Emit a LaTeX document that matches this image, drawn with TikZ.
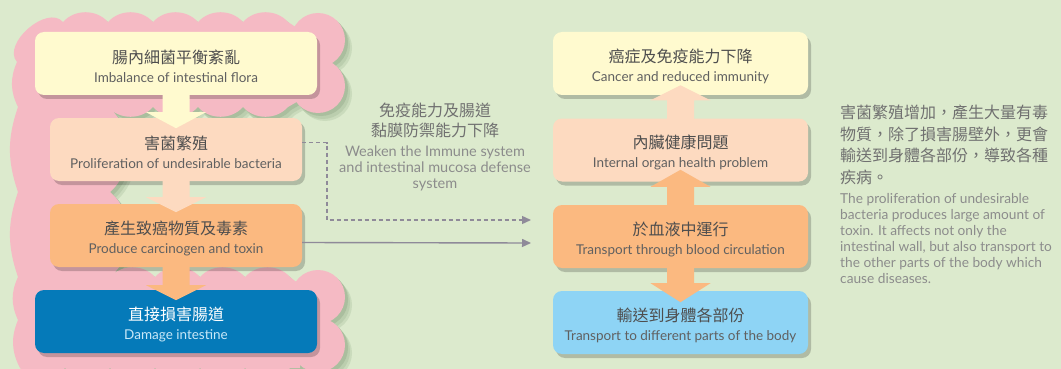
\documentclass[tikz,border=0pt]{standalone}
\usepackage{fontspec}
\setmainfont{Lato}
\newfontfamily\cjk{Noto Sans CJK TC}
\usetikzlibrary{calc,shadows,arrows.meta}
\definecolor{bg}{RGB}{220,234,205}
\definecolor{bgshade}{RGB}{170,190,158}
\definecolor{pinkc}{RGB}{245,186,196}
\definecolor{cyel}{RGB}{255,250,207}
\definecolor{cpeach}{RGB}{253,218,192}
\definecolor{corange}{RGB}{251,185,128}
\definecolor{cblue}{RGB}{5,122,185}
\definecolor{clblue}{RGB}{142,212,245}
\definecolor{txtdark}{RGB}{78,78,78}
\definecolor{txtmid}{RGB}{96,96,96}
\definecolor{txtgray}{RGB}{112,112,112}
\definecolor{txtlight}{RGB}{140,140,140}
\definecolor{lineg}{RGB}{143,138,153}
\definecolor{blueen}{RGB}{200,232,248}
\newcommand\zhf{\cjk\fontsize{16}{20}\selectfont\rule{0pt}{19pt}}
\newcommand\enf{\fontsize{13.5}{16}\selectfont}
\newcommand\cloudshape[1]{%
  \fill[#1] (17,62) to[bend left=90] (63,22) to[bend left=48] (108,22)
    to[bend left=48] (153,22) to[bend left=48] (198,22) to[bend left=48] (243,22)
    to[bend left=48] (288,22) -- (300,30) -- (300,100) -- (288,107)
    to[bend left=48] (243,107) to[bend left=48] (198,107) to[bend left=48] (153,107)
    to[bend left=48] (108,107) to[bend left=50] (110,192) to[bend left=50] (110,277)
    to[bend left=48] (155,277) to[bend left=48] (200,277) to[bend left=48] (245,277)
    to[bend left=48] (290,277) -- (300,285) -- (300,368) -- (290,368)
    to[bend left=48] (245,368) to[bend left=48] (200,368) to[bend left=48] (155,368)
    to[bend left=48] (110,368) to[bend left=48] (65,368) to[bend left=48] (20,368)
    to[bend left=25] (18,320) to[bend left=25] (18,277) to[bend left=19] (18,192)
    to[bend left=19] (18,107) to[bend left=25] (17,62) -- cycle;
  \fill[#1] (318,40) circle[radius=27pt];
  \fill[#1] (318,86) circle[radius=27pt];
  \fill[#1] (318,297) circle[radius=27pt];
  \fill[#1] (318,345) circle[radius=27pt];
}
\newcommand\fatarrow[5]{% color, anchor, start dy, head base dy, tip dy
  \fill[#1] ($(#2)+(-13.5,#3)$) -- ($(#2)+(-13.5,#4)$) -- ($(#2)+(-30,#4)$)
    -- ($(#2)+(0,#5)$) -- ($(#2)+(30,#4)$) -- ($(#2)+(13.5,#4)$)
    -- ($(#2)+(13.5,#3)$) -- cycle;}
\begin{document}
\begin{tikzpicture}[x=1pt,y=-1pt,
  box/.style={rounded corners=9pt, inner sep=0pt, align=center,
    drop shadow={shadow xshift=3pt, shadow yshift=-4pt, fill=black, opacity=0.2}},
  wide/.style={box, minimum width=282pt, minimum height=63pt},
  narrow/.style={box, minimum width=252pt, minimum height=63pt},
  rbox/.style={box, minimum width=255pt, minimum height=63pt},
  conn/.style={draw=lineg, line width=1.4pt, -{Triangle[length=9pt,width=8pt]}}]
\useasboundingbox (0,0) rectangle (1061,369);
\fill[bg] (0,0) rectangle (1061,369);
% cloud with soft shadow
\begin{scope}[shift={(7,8)}]\cloudshape{bgshade!35!bg}\end{scope}
\begin{scope}[shift={(5,6)}]\cloudshape{bgshade!65!bg}\end{scope}
\begin{scope}[shift={(3,3)}]\cloudshape{bgshade}\end{scope}
\cloudshape{pinkc}
% left boxes
\node[wide, fill=cyel] (b1) at (176,63.5)
  {\zhf\color{txtdark}腸內細菌平衡紊亂\\[7pt]\enf\color{txtmid}Imbalance of intestinal flora};
\node[narrow, fill=cpeach] (b2) at (176,149.5)
  {\zhf\color{txtdark}害菌繁殖\\[7pt]\enf\color{txtmid}Proliferation of undesirable bacteria};
\node[narrow, fill=corange] (b3) at (176,235.5)
  {\zhf\color{txtdark}產生致癌物質及毒素\\[7pt]\enf\color{txtmid}Produce carcinogen and toxin};
\node[wide, fill=cblue] (b4) at (176,321.5)
  {\zhf\color{white}直接損害腸道\\[7pt]\enf\color{blueen}Damage intestine};
% right boxes
\node[rbox, fill=cyel] (r1) at (680.5,63.5)
  {\zhf\color{txtdark}癌症及免疫能力下降\\[7pt]\enf\color{txtmid}Cancer and reduced immunity};
\node[rbox, fill=cpeach] (r2) at (680.5,150)
  {\zhf\color{txtdark}內臟健康問題\\[7pt]\enf\color{txtmid}Internal organ health problem};
\node[rbox, fill=corange] (r3) at (680.5,236.5)
  {\zhf\color{txtdark}於血液中運行\\[7pt]\enf\color{txtmid}Transport through blood circulation};
\node[rbox, fill=clblue] (r4) at (680.5,322.5)
  {\zhf\color{txtdark}輸送到身體各部份\\[7pt]\enf\color{txtmid}Transport to different parts of the body};
% fat arrows
\fatarrow{cyel}{b1.south}{-3}{17}{33}
\fatarrow{cpeach}{b2.south}{-3}{16}{31}
\fatarrow{corange}{b3.south}{-3}{18}{33}
\fatarrow{cpeach}{r2.north}{3}{-18}{-33}
\fatarrow{corange}{r3.north}{3}{-18}{-35}
\fatarrow{corange}{r3.south}{-3}{15}{34}
% connectors
\coordinate (dk) at (327,220);
\coordinate (de) at (531,220);
\coordinate (se) at (531,243);
\draw[conn, dash pattern=on 4pt off 3pt] ($(b2.east)+(0,-7)$) -| (dk) -- (de);
\draw[conn] ($(b3.east)+(0,7)$) -- (se);
% middle text
\node[align=center, inner sep=0pt, text=txtgray,
  font={\cjk\fontsize{16}{20}\selectfont}] (midz) at (435,120)
  {免疫能力及腸道\\黏膜防禦能力下降};
\node[align=center, inner sep=0pt, text=txtlight,
  font={\fontsize{14.5}{16}\selectfont}] (mide) at (435,168)
  {Weaken the Immune system\\and intestinal mucosa defense\\system};
% right text
\node[align=left, anchor=north west, inner sep=0pt, text=txtgray,
  font={\cjk\fontsize{16}{21.5}\selectfont}] (rz) at (840,105)
  {害菌繁殖增加，產生大量有毒\\物質，除了損害腸壁外，更會\\輸送到身體各部份，導致各種\\疾病。};
\node[align=left, anchor=north west, inner sep=0pt, text=txtlight,
  font={\fontsize{13.7}{16}\selectfont}] (re) at (840,193)
  {The proliferation of undesirable\\bacteria produces large amount of\\toxin. It affects not only the\\intestinal wall, but also transport to\\the other parts of the body which\\cause diseases.};
\end{tikzpicture}
\end{document}
